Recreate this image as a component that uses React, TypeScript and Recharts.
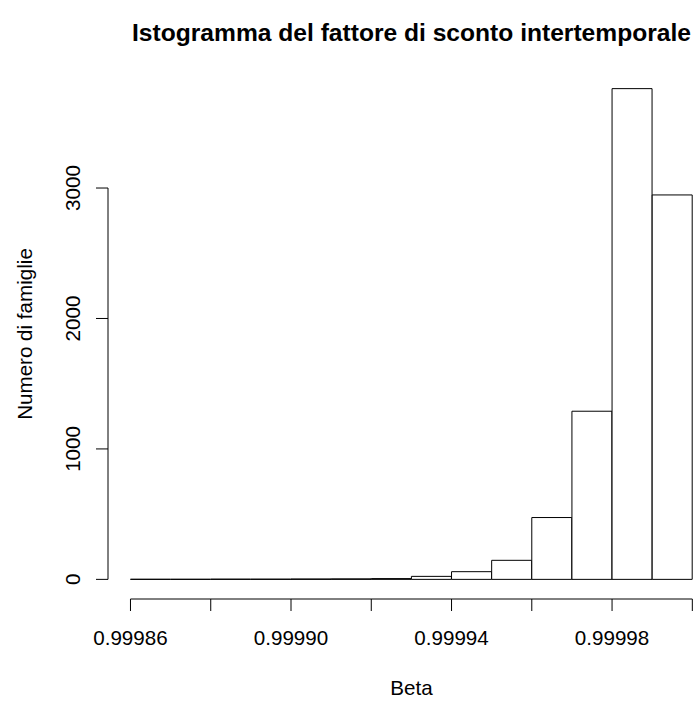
import React from 'react';
import { BarChart, Bar, XAxis, YAxis, ReferenceLine } from 'recharts';

const breaks = [0.99986, 0.99987, 0.99988, 0.99989, 0.9999, 0.99991, 0.99992, 0.99993, 0.99994, 0.99995, 0.99996, 0.99997, 0.99998, 0.99999, 1.0];
const counts = [1, 1, 2, 2, 3, 4, 6, 23, 59, 146, 474, 1289, 3762, 2947];
const xTicks = [0.99986, 0.99988, 0.9999, 0.99992, 0.99994, 0.99996, 0.99998, 1.0];
const xLabels = ['0.99986', '', '0.99990', '', '0.99994', '', '0.99998', ''];
const yTicks = [0, 1000, 2000, 3000];
const yLabels = ['0', '1000', '2000', '3000'];

const title = 'Istogramma del fattore di sconto intertemporale';
const xTitle = 'Beta';
const yTitle = 'Numero di famiglie';

const data = counts.map((c, i) => ({ mid: (breaks[i] + breaks[i + 1]) / 2, count: c }));
const xLo = breaks[0];
const xHi = breaks[breaks.length - 1];
const xPad = 0.04 * (xHi - xLo);
const xDomain = [xLo - xPad, xHi + xPad];
const yMax = Math.max(...counts);
const yDomain = [-0.04 * yMax, 1.04 * yMax];

const FONT = '"Liberation Sans", Arial, Helvetica, sans-serif';
const AX_FS = 20.6;

const XTick = (props: any) => {
  const { x, y, payload } = props;
  const i = xTicks.findIndex((t) => Math.abs(t - payload.value) < 1e-9);
  const label = i >= 0 ? xLabels[i] : '';
  return (
    <text x={x} y={y + 32} textAnchor="middle" fontSize={AX_FS} fontFamily={FONT} fill="#000">
      {label}
    </text>
  );
};

const YTick = (props: any) => {
  const { x, y, payload } = props;
  const i = yTicks.findIndex((t) => Math.abs(t - payload.value) < 1e-9);
  const label = i >= 0 ? yLabels[i] : '';
  return (
    <text
      transform={`translate(${x - 14.5},${y}) rotate(-90)`}
      textAnchor="middle"
      fontSize={AX_FS}
      fontFamily={FONT}
      fill="#000"
    >
      {label}
    </text>
  );
};

export default function App() {
  return (
    <div style={{ position: 'absolute', left: 0, top: 0, width: 698, height: 701, overflow: 'hidden', background: '#fff' }}>
      <BarChart
        width={698}
        height={701}
        data={data}
        margin={{ top: 69, right: -16.8, bottom: 0, left: 0 }}
        barCategoryGap={0}
        barGap={0}
      >
        <XAxis
          dataKey="mid"
          type="number"
          domain={xDomain}
          allowDataOverflow
          ticks={xTicks}
          interval={0}
          tickSize={12}
          axisLine={false}
          tickLine={{ stroke: '#000' }}
          height={102}
          tick={<XTick />}
        />
        <YAxis
          type="number"
          domain={yDomain}
          allowDataOverflow
          ticks={yTicks}
          interval={0}
          width={108}
          tickSize={12}
          axisLine={false}
          tickLine={{ stroke: '#000' }}
          tick={<YTick />}
        />
        <Bar dataKey="count" fill="#fff" stroke="#000" strokeWidth={1} isAnimationActive={false} />
        <ReferenceLine
          segment={[{ x: xDomain[0], y: yTicks[0] }, { x: xDomain[0], y: yTicks[yTicks.length - 1] }]}
          stroke="#000"
          ifOverflow="visible"
        />
        <ReferenceLine
          segment={[{ x: xLo, y: yDomain[0] }, { x: xHi, y: yDomain[0] }]}
          stroke="#000"
          ifOverflow="visible"
        />
      </BarChart>
      <svg width={698} height={701} style={{ position: 'absolute', left: 0, top: 0, pointerEvents: 'none' }}>
        <text x={411.5} y={41} textAnchor="middle" fontSize={24.6} fontWeight="bold" fontFamily={FONT} fill="#000">
          {title}
        </text>
        <text x={411.5} y={695} textAnchor="middle" fontSize={AX_FS} fontFamily={FONT} fill="#000">
          {xTitle}
        </text>
        <text transform="translate(32,334) rotate(-90)" textAnchor="middle" fontSize={AX_FS} fontFamily={FONT} fill="#000">
          {yTitle}
        </text>
      </svg>
    </div>
  );
}
